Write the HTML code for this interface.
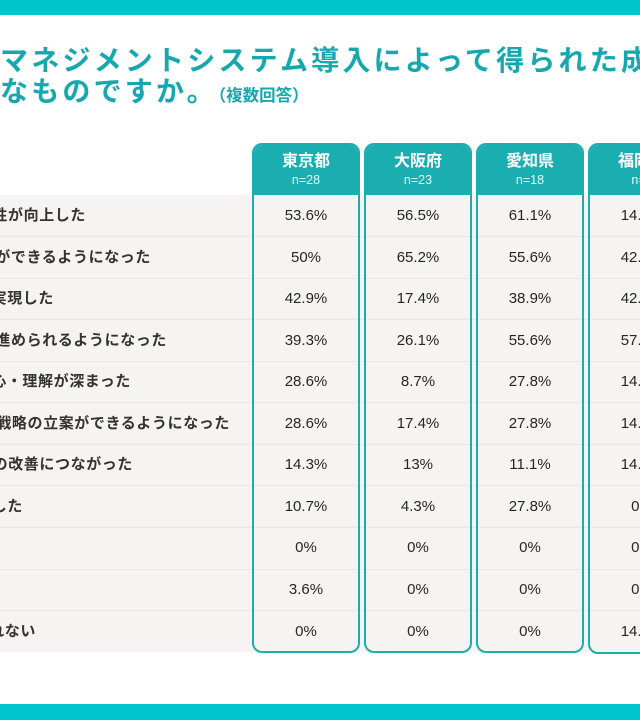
<!DOCTYPE html>
<html lang="ja">
<head>
<meta charset="utf-8">
<style>
  html,body{margin:0;padding:0;}
  body{width:640px;height:720px;position:relative;overflow:hidden;background:#ffffff;
       font-family:"Liberation Sans","Noto Sans CJK JP",sans-serif;}
  #clip{position:absolute;left:0;top:0;width:640px;height:720px;overflow:hidden;}
  .bar{position:absolute;left:0;width:640px;background:#00c5cc;}
  .title{position:absolute;left:0;top:45px;width:640px;overflow:hidden;font-size:28px;line-height:31px;
         font-weight:700;color:#17a8af;letter-spacing:3.2px;white-space:nowrap;
         font-family:"Liberation Sans","Noto Sans CJK JP",sans-serif;}
  .title .sm{font-size:16.5px;letter-spacing:0;}
  .rowbg{position:absolute;left:0;width:640px;background:#f5f4f2;}
  .sep{position:absolute;left:0;width:640px;height:1px;background:#e8e6e3;}
  .lab{position:absolute;width:400px;text-align:right;height:41.55px;line-height:41.55px;
       font-size:15px;font-weight:700;color:#333;letter-spacing:0.6px;white-space:nowrap;
       font-family:"Liberation Sans","Noto Sans CJK JP",sans-serif;}
  .col{position:absolute;top:143px;width:108px;height:510px;border:2px solid #1aaeb1;
       border-radius:10px;box-sizing:border-box;overflow:hidden;}
  .col .hd{position:absolute;left:0;top:0;width:100%;height:50px;background:#1aaeb1;color:#fff;text-align:center;}
  .col .hd .nm{position:absolute;left:0;width:100%;top:7px;font-size:16px;line-height:20px;font-weight:700;
       font-family:"Liberation Sans","Noto Sans CJK JP",sans-serif;}
  .col .hd .n{position:absolute;left:0;width:100%;top:28px;font-size:12.5px;line-height:15px;color:#e8f8f8;}
  .val{position:absolute;left:0;width:100%;height:41.55px;line-height:41.55px;text-align:center;
       font-size:15px;color:#262626;}
</style>
</head>
<body>
<div id="clip">
<div class="bar" style="top:0;height:15px;"></div>
<div class="bar" style="top:704px;height:16px;"></div>

<div class="title">マネジメントシステム導入によって得られた成果はどのよう<br>なものですか。<span class="sm">（複数回答）</span></div>

<!-- row backgrounds -->
<div class="rowbg" style="top:195px;height:457px;"></div>
<div class="sep" style="top:236px"></div>
<div class="sep" style="top:277.6px"></div>
<div class="sep" style="top:319.2px"></div>
<div class="sep" style="top:360.7px"></div>
<div class="sep" style="top:402.3px"></div>
<div class="sep" style="top:443.8px"></div>
<div class="sep" style="top:485.4px"></div>
<div class="sep" style="top:526.9px"></div>
<div class="sep" style="top:568.5px"></div>
<div class="sep" style="top:610px"></div>

<!-- labels (cropped at left) -->
<div class="lab" style="left:-314px;top:195px;">生産性が向上した</div>
<div class="lab" style="left:-249px;top:236.55px;">共有ができるようになった</div>
<div class="lab" style="left:-346px;top:278.1px;">効率化を実現した</div>
<div class="lab" style="left:-233px;top:319.65px;">業務を進められるようになった</div>
<div class="lab" style="left:-269px;top:361.2px;">従業員の関心・理解が深まった</div>
<div class="lab" style="left:-170px;top:402.75px;">経営戦略の立案ができるようになった</div>
<div class="lab" style="left:-267px;top:444.3px;">業務の改善につながった</div>
<div class="lab" style="left:-377px;top:485.85px;">削減した</div>
<div class="lab" style="left:-364px;top:610.5px;">得られない</div>

<!-- columns -->
<div class="col" style="left:252px;">
  <div class="hd"><div class="nm">東京都</div><div class="n">n=28</div></div>
  <div class="val" style="top:50px">53.6%</div>
  <div class="val" style="top:91.55px">50%</div>
  <div class="val" style="top:133.1px">42.9%</div>
  <div class="val" style="top:174.65px">39.3%</div>
  <div class="val" style="top:216.2px">28.6%</div>
  <div class="val" style="top:257.75px">28.6%</div>
  <div class="val" style="top:299.3px">14.3%</div>
  <div class="val" style="top:340.85px">10.7%</div>
  <div class="val" style="top:382.4px">0%</div>
  <div class="val" style="top:423.95px">3.6%</div>
  <div class="val" style="top:465.5px">0%</div>
</div>
<div class="col" style="left:364px;">
  <div class="hd"><div class="nm">大阪府</div><div class="n">n=23</div></div>
  <div class="val" style="top:50px">56.5%</div>
  <div class="val" style="top:91.55px">65.2%</div>
  <div class="val" style="top:133.1px">17.4%</div>
  <div class="val" style="top:174.65px">26.1%</div>
  <div class="val" style="top:216.2px">8.7%</div>
  <div class="val" style="top:257.75px">17.4%</div>
  <div class="val" style="top:299.3px">13%</div>
  <div class="val" style="top:340.85px">4.3%</div>
  <div class="val" style="top:382.4px">0%</div>
  <div class="val" style="top:423.95px">0%</div>
  <div class="val" style="top:465.5px">0%</div>
</div>
<div class="col" style="left:476px;">
  <div class="hd"><div class="nm">愛知県</div><div class="n">n=18</div></div>
  <div class="val" style="top:50px">61.1%</div>
  <div class="val" style="top:91.55px">55.6%</div>
  <div class="val" style="top:133.1px">38.9%</div>
  <div class="val" style="top:174.65px">55.6%</div>
  <div class="val" style="top:216.2px">27.8%</div>
  <div class="val" style="top:257.75px">27.8%</div>
  <div class="val" style="top:299.3px">11.1%</div>
  <div class="val" style="top:340.85px">27.8%</div>
  <div class="val" style="top:382.4px">0%</div>
  <div class="val" style="top:423.95px">0%</div>
  <div class="val" style="top:465.5px">0%</div>
</div>
<div class="col" style="left:588px;height:511px;">
  <div class="hd"><div class="nm">福岡県</div><div class="n">n=7</div></div>
  <div class="val" style="top:50px">14.3%</div>
  <div class="val" style="top:91.55px">42.9%</div>
  <div class="val" style="top:133.1px">42.9%</div>
  <div class="val" style="top:174.65px">57.1%</div>
  <div class="val" style="top:216.2px">14.3%</div>
  <div class="val" style="top:257.75px">14.3%</div>
  <div class="val" style="top:299.3px">14.3%</div>
  <div class="val" style="top:340.85px">0%</div>
  <div class="val" style="top:382.4px">0%</div>
  <div class="val" style="top:423.95px">0%</div>
  <div class="val" style="top:465.5px">14.3%</div>
</div>
</div>
</body>
</html>
